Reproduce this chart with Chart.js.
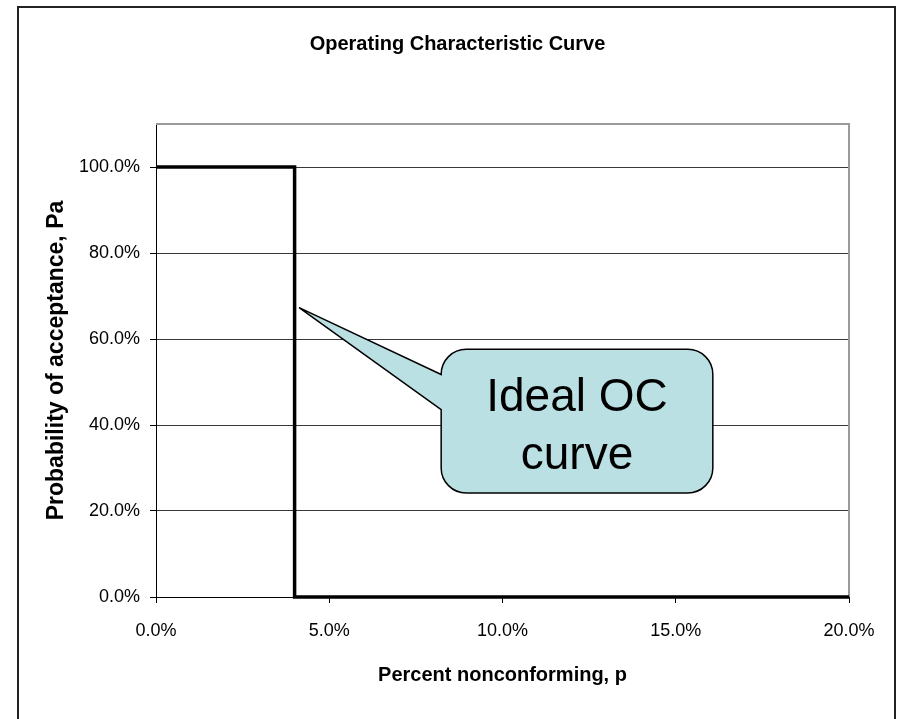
<!DOCTYPE html>
<html>
<head>
<meta charset="utf-8">
<title>Operating Characteristic Curve</title>
<script src="https://cdn.jsdelivr.net/npm/chart.js@4.4.1/dist/chart.umd.min.js"></script>
<style>
  html, body { margin: 0; padding: 0; background: #fff; overflow: hidden; }
  #ocChart { display: block; }
</style>
</head>
<body>
<canvas id="ocChart" width="897" height="719"></canvas>
<script>
/* =====================================================
   Data
===================================================== */
const percentNonconforming = [0, 0.01, 0.02, 0.03, 0.04, 0.04, 0.05, 0.06, 0.07, 0.08, 0.09, 0.10, 0.11, 0.12, 0.13, 0.14, 0.15, 0.16, 0.17, 0.18, 0.19, 0.20];
const probAcceptance       = [1,    1,    1,    1,    1,    0,    0,    0,    0,    0,    0,    0,    0,    0,    0,    0,    0,    0,    0,    0,    0,    0];
const xTickValues = [0, 0.05, 0.10, 0.15, 0.20];
const yTickValues = [0, 0.2, 0.4, 0.6, 0.8, 1.0];
const calloutLines = ['Ideal OC', 'curve'];

// callout anchor, in axis units
const calloutTip = { x: 0.0413, y: 0.673 };
const calloutBox = { x0: 0.0823, x1: 0.1607, y0: 0.242, y1: 0.576 };

const FONT = '"Liberation Sans", Arial, sans-serif';
const pct = v => (v * 100).toFixed(1) + '%';

/* =====================================================
   Plugins
===================================================== */
// gray top / right edge of the plot area
const plotFrame = {
  id: 'plotFrame',
  beforeDatasetsDraw(chart) {
    const { ctx, chartArea: a } = chart;
    ctx.save();
    ctx.strokeStyle = '#9a9a9a';
    ctx.lineWidth = 2;
    ctx.beginPath();
    ctx.moveTo(a.left, a.top);
    ctx.lineTo(a.right, a.top);
    ctx.lineTo(a.right, a.bottom);
    ctx.stroke();
    ctx.restore();
  }
};

// speech-bubble callout
const callout = {
  id: 'callout',
  afterDatasetsDraw(chart) {
    const { ctx, scales: { x, y } } = chart;
    const tipX = x.getPixelForValue(calloutTip.x);
    const tipY = y.getPixelForValue(calloutTip.y);
    const L = x.getPixelForValue(calloutBox.x0);
    const R = x.getPixelForValue(calloutBox.x1);
    const T = y.getPixelForValue(calloutBox.y1);
    const B = y.getPixelForValue(calloutBox.y0);
    const h = B - T;
    const r = 25;
    const baseTop = T + h * 0.175;
    const baseBottom = T + h * 0.42;

    ctx.save();
    ctx.beginPath();
    ctx.moveTo(L + r, T);
    ctx.lineTo(R - r, T);
    ctx.arcTo(R, T, R, T + r, r);
    ctx.lineTo(R, B - r);
    ctx.arcTo(R, B, R - r, B, r);
    ctx.lineTo(L + r, B);
    ctx.arcTo(L, B, L, B - r, r);
    ctx.lineTo(L, baseBottom);
    ctx.lineTo(tipX, tipY);
    ctx.lineTo(L, baseTop);
    ctx.lineTo(L, T + r);
    ctx.arcTo(L, T, L + r, T, r);
    ctx.closePath();
    ctx.fillStyle = '#bbe0e3';
    ctx.fill();
    ctx.strokeStyle = '#000';
    ctx.lineWidth = 1.5;
    ctx.stroke();

    ctx.fillStyle = '#000';
    ctx.font = '46px ' + FONT;
    ctx.textAlign = 'center';
    ctx.textBaseline = 'alphabetic';
    const cx = (L + R) / 2;
    calloutLines.forEach((line, i) => {
      ctx.fillText(line, cx, T + 62 + i * 58);
    });
    ctx.restore();
  }
};

// outer chart border
const outerBorder = {
  id: 'outerBorder',
  afterDraw(chart) {
    const { ctx } = chart;
    ctx.save();
    ctx.strokeStyle = '#222';
    ctx.lineWidth = 2;
    ctx.beginPath();
    ctx.moveTo(18, 725);
    ctx.lineTo(18, 7);
    ctx.lineTo(895, 7);
    ctx.lineTo(895, 725);
    ctx.stroke();
    ctx.restore();
  }
};

/* =====================================================
   Chart
===================================================== */
new Chart(document.getElementById('ocChart'), {
  type: 'line',
  data: {
    datasets: [{
      data: percentNonconforming.map((p, i) => ({ x: p, y: probAcceptance[i] })),
      borderColor: '#000',
      borderWidth: 3.5,
      pointRadius: 0,
      tension: 0,
      fill: false,
      clip: false
    }]
  },
  options: {
    responsive: false,
    animation: false,
    layout: { padding: { left: 18, top: 0, right: 0, bottom: 0 } },
    plugins: {
      legend: { display: false },
      tooltip: { enabled: false },
      title: {
        display: true,
        text: 'Operating Characteristic Curve',
        color: '#000',
        font: { family: FONT, size: 20, weight: 'bold' },
        padding: { top: 32, bottom: 68 }
      }
    },
    scales: {
      x: {
        type: 'linear',
        min: 0,
        max: 0.2,
        afterBuildTicks: s => { s.ticks = xTickValues.map(v => ({ value: v })); },
        afterFit: s => { s.height = 122; },
        grid: { drawOnChartArea: false, drawTicks: true, tickLength: 6, tickColor: '#000' },
        border: { display: true, color: '#000', width: 1 },
        ticks: {
          padding: 17,
          color: '#000',
          font: { family: FONT, size: 18 },
          maxRotation: 0,
          callback: v => pct(v)
        },
        title: {
          display: true,
          text: 'Percent nonconforming, p',
          color: '#000',
          font: { family: FONT, size: 20, weight: 'bold' },
          padding: { top: 0, bottom: 32 }
        }
      },
      y: {
        type: 'linear',
        min: 0,
        max: 1.1,
        afterBuildTicks: s => { s.ticks = yTickValues.map(v => ({ value: v })); },
        afterFit: s => { s.width = 138; },
        grid: { color: '#383838', lineWidth: 1, drawTicks: true, tickLength: 6, tickColor: '#000' },
        border: { display: true, color: '#000', width: 1 },
        ticks: {
          padding: 10,
          color: '#000',
          font: { family: FONT, size: 18 },
          callback: v => pct(v)
        },
        title: {
          display: true,
          text: 'Probability of acceptance, Pa',
          color: '#000',
          font: { family: FONT, size: 23, weight: 'bold' },
          padding: { top: 25, bottom: 0 }
        }
      },
      yRight: {
        type: 'linear',
        position: 'right',
        display: true,
        afterFit: s => { s.width = 48; },
        grid: { display: false },
        border: { display: false },
        ticks: { display: false }
      }
    }
  },
  plugins: [plotFrame, callout, outerBorder]
});
</script>
</body>
</html>
